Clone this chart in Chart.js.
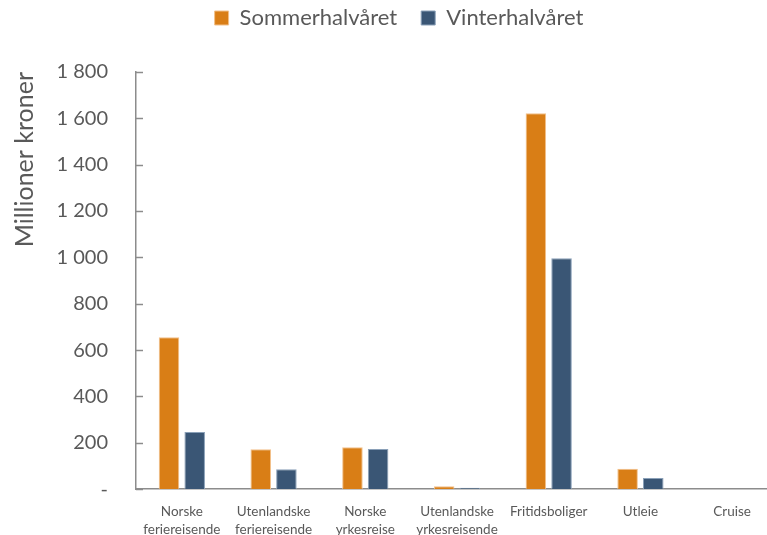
<!DOCTYPE html>
<html>
<head>
<meta charset="utf-8">
<script src="https://cdn.jsdelivr.net/npm/chart.js@4.4.1/dist/chart.umd.min.js"></script>
<style>
  html, body { margin: 0; padding: 0; background: #fff; overflow: hidden; }
  #wrap { width: 767px; height: 535px; overflow: hidden; }
</style>
</head>
<body>
<div id="wrap"><canvas id="chart" width="778" height="545"></canvas></div>
<script>
// Chart data
const categories = [
  ['Norske', 'feriereisende'],
  ['Utenlandske', 'feriereisende'],
  ['Norske', 'yrkesreise'],
  ['Utenlandske', 'yrkesreisende'],
  'Fritidsboliger',
  'Utleie',
  'Cruise',
];
const summerValues = [655, 172, 181, 12, 1622, 88, 0];
const winterValues = [246, 86, 173, 6, 996, 48, 0];
const seriesNames = ['Sommerhalvåret', 'Vinterhalvåret'];

const FONT = 'Lato, "Open Sans", sans-serif';
const TEXT = '#595959';
const AXIS = '#8C8C8C';

function formatTick(value) {
  if (value === 0) return '-';
  return String(value).replace(/\B(?=(\d{3})+(?!\d))/g, ' ');
}

// legend sits high, with a gap before the plot
const legendSpacer = {
  id: 'legendSpacer',
  beforeInit(chart) {
    const origFit = chart.legend.fit;
    chart.legend.fit = function () {
      origFit.bind(chart.legend)();
      this.height += 14;
    };
  },
  afterLayout(chart) {
    chart.legend.top -= 19;
    chart.legend.bottom -= 19;
  },
};

// short tick marks pointing into the plot, like the original
const innerTicks = {
  id: 'innerTicks',
  afterDraw(chart) {
    const y = chart.scales.y;
    const c = chart.ctx;
    c.save();
    c.strokeStyle = AXIS;
    c.lineWidth = 1.5;
    y.ticks.forEach((t) => {
      const py = Math.round(y.getPixelForValue(t.value)) + 0.5;
      c.beginPath();
      c.moveTo(y.right, py);
      c.lineTo(y.right + 7, py);
      c.stroke();
    });
    c.restore();
  },
};

const ctx = document.getElementById('chart');
new Chart(ctx, {
  type: 'bar',
  data: {
    labels: categories,
    datasets: [
      {
        label: seriesNames[0],
        data: summerValues,
        backgroundColor: '#D97E16',
        borderColor: '#F2C08A',
        borderWidth: 1,
        categoryPercentage: 0.56,
        barPercentage: 0.8,
      },
      {
        label: seriesNames[1],
        data: winterValues,
        backgroundColor: '#3A5675',
        borderColor: '#8AA0B8',
        borderWidth: 1,
        categoryPercentage: 0.56,
        barPercentage: 0.8,
      },
    ],
  },
  options: {
    responsive: false,
    animation: false,
    layout: {
      padding: { top: 2, left: 20, right: 0, bottom: 0 },
    },
    scales: {
      x: {
        grid: { display: false },
        border: { color: AXIS, width: 1.5 },
        ticks: {
          color: TEXT,
          font: { family: FONT, size: 13.5, lineHeight: 1.33 },
          maxRotation: 0,
          autoSkip: false,
          padding: 6,
        },
      },
      y: {
        min: 0,
        max: 1800,
        grid: { display: false, drawTicks: false },
        border: { color: AXIS, width: 1.5 },
        ticks: {
          stepSize: 200,
          color: TEXT,
          font: { family: FONT, size: 20 },
          padding: 28,
          callback: (v) => formatTick(v),
        },
        title: {
          display: true,
          text: 'Millioner kroner',
          align: 'end',
          color: TEXT,
          font: { family: FONT, size: 25 },
          padding: { top: -10, bottom: 0 },
        },
        afterFit(scale) {
          scale.width = 116;
        },
      },
    },
    plugins: {
      legend: {
        position: 'top',
        labels: {
          color: TEXT,
          font: { family: FONT, size: 22 },
          boxWidth: 14,
          boxHeight: 14,
          padding: 24,
        },
      },
      tooltip: { enabled: false },
    },
  },
  plugins: [legendSpacer, innerTicks],
});
</script>
</body>
</html>
